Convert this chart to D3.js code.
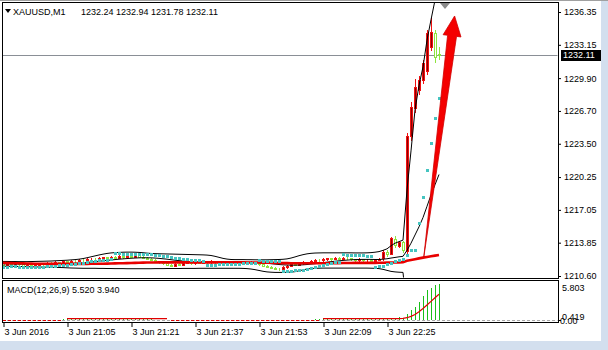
<!DOCTYPE html>
<html><head><meta charset="utf-8">
<script src="https://cdn.jsdelivr.net/npm/d3@7"></script>
<style>
html,body{margin:0;padding:0;background:#d3dfee;}
svg{display:block;}
text{font-family:"Liberation Sans",Arial,sans-serif;font-size:9px;fill:#000;}
</style></head><body>
<svg id="c" width="608" height="350"></svg>
<script>
// ---------- DATA ----------
const symbolLabel = "XAUUSD,M1";
const headerOHLC = ["1232.24","1232.94","1231.78","1232.11"];
const macdLabel = "MACD(12,26,9) 5.520 3.940";
const bidPrice = 1232.11;
const priceTicks = [1236.35,1233.15,1229.90,1226.70,1223.50,1220.25,1217.05,1213.85,1210.60];
const timeTickBars = [0,16,32,48,64,80,96];
const timeTickLabels = ["3 Jun 2016","3 Jun 21:05","3 Jun 21:21","3 Jun 21:37","3 Jun 21:53","3 Jun 22:09","3 Jun 22:25"];
const macdScaleLabels = [{v:5.803,t:"5.803"},{v:0.419,t:"0.419"},{v:0,t:"0.00"}];

const opens = [1211.85,1211.70,1211.80,1211.72,1211.85,1211.75,1211.62,1211.70,1211.60,1211.72,
1211.80,1211.74,1211.88,1211.80,1211.95,1211.90,1212.02,1211.96,1212.10,1212.05,
1212.20,1212.12,1212.25,1212.30,1212.22,1212.35,1212.42,1212.36,1212.48,1212.40,
1212.52,1212.45,1212.58,1212.50,1212.60,1212.48,1212.40,1212.30,1212.18,1212.05,
1211.95,1211.82,1211.70,1211.62,1211.80,1211.72,1211.88,1211.95,1211.85,1211.98,
1211.90,1212.02,1211.94,1212.05,1211.96,1211.88,1211.98,1211.90,1212.00,1211.92,
1212.02,1211.95,1211.88,1211.96,1211.85,1211.74,1211.62,1211.52,1211.42,1211.32,
1211.26,1211.48,1211.62,1211.75,1211.70,1211.85,1211.96,1211.90,1212.08,1212.18,
1212.12,1212.25,1212.32,1212.26,1212.38,1212.30,1212.40,1212.32,1212.22,1212.15,
1212.25,1212.12,1212.20,1212.08,1212.18,1212.35,1212.95,1212.75,1214.20,1213.55,
1213.90,1213.00,1224.30,1227.00,1228.70,1229.70,1230.60,1232.94,1234.30,1232.24];
const highs = [1211.90,1211.86,1211.85,1211.92,1211.90,1211.80,1211.76,1211.74,1211.78,1211.88,
1211.84,1211.95,1211.93,1212.02,1212.00,1212.10,1212.06,1212.16,1212.14,1212.28,
1212.24,1212.32,1212.38,1212.35,1212.42,1212.50,1212.46,1212.56,1212.52,1212.60,
1212.57,1212.68,1212.63,1212.70,1212.66,1212.54,1212.45,1212.36,1212.24,1212.10,
1212.00,1211.88,1211.76,1211.88,1211.85,1211.94,1212.02,1212.00,1212.05,1212.03,
1212.08,1212.07,1212.12,1212.10,1212.02,1212.04,1212.03,1212.06,1212.05,1212.09,
1212.07,1212.00,1212.02,1212.01,1211.90,1211.79,1211.68,1211.57,1211.47,1211.38,
1211.55,1211.68,1211.82,1211.80,1211.91,1212.03,1212.01,1212.14,1212.25,1212.22,
1212.32,1212.40,1212.37,1212.45,1212.43,1212.47,1212.45,1212.37,1212.28,1212.31,
1212.30,1212.26,1212.25,1212.24,1212.36,1213.10,1213.10,1214.40,1214.55,1214.05,
1214.00,1224.55,1227.60,1229.80,1230.10,1231.70,1234.55,1235.80,1234.60,1232.94];
const lows = [1211.64,1211.65,1211.66,1211.67,1211.70,1211.55,1211.57,1211.54,1211.55,1211.66,
1211.68,1211.69,1211.74,1211.75,1211.84,1211.85,1211.90,1211.91,1211.99,1212.00,
1212.06,1212.07,1212.20,1212.16,1212.17,1212.30,1212.30,1212.31,1212.34,1212.35,
1212.40,1212.40,1212.44,1212.45,1212.42,1212.33,1212.24,1212.12,1211.99,1211.88,
1211.76,1211.63,1211.55,1211.56,1211.66,1211.67,1211.82,1211.79,1211.80,1211.85,
1211.85,1211.89,1211.88,1211.91,1211.82,1211.83,1211.85,1211.85,1211.87,1211.87,
1211.90,1211.82,1211.83,1211.80,1211.68,1211.56,1211.46,1211.36,1211.26,1211.20,
1211.18,1211.42,1211.57,1211.64,1211.65,1211.80,1211.84,1211.85,1212.02,1212.06,
1212.07,1212.19,1212.20,1212.21,1212.24,1212.25,1212.27,1212.16,1212.09,1212.10,
1212.06,1212.07,1212.02,1212.03,1212.12,1212.20,1212.55,1212.70,1213.45,1213.45,
1212.95,1212.85,1223.90,1226.60,1228.40,1229.40,1230.30,1232.60,1231.50,1231.78];
const closes = [1211.70,1211.80,1211.72,1211.85,1211.75,1211.62,1211.70,1211.60,1211.72,1211.80,
1211.74,1211.88,1211.80,1211.95,1211.90,1212.02,1211.96,1212.10,1212.05,1212.20,
1212.12,1212.25,1212.30,1212.22,1212.35,1212.42,1212.36,1212.48,1212.40,1212.52,
1212.45,1212.58,1212.50,1212.60,1212.48,1212.40,1212.30,1212.18,1212.05,1211.95,
1211.82,1211.70,1211.62,1211.80,1211.72,1211.88,1211.95,1211.85,1211.98,1211.90,
1212.02,1211.94,1212.05,1211.96,1211.88,1211.98,1211.90,1212.00,1211.92,1212.02,
1211.95,1211.88,1211.96,1211.85,1211.74,1211.62,1211.52,1211.42,1211.32,1211.26,
1211.48,1211.62,1211.75,1211.70,1211.85,1211.96,1211.90,1212.08,1212.18,1212.12,
1212.25,1212.32,1212.26,1212.38,1212.30,1212.40,1212.32,1212.22,1212.15,1212.25,
1212.12,1212.20,1212.08,1212.18,1212.28,1212.90,1212.70,1214.30,1213.60,1213.90,
1213.10,1224.30,1227.10,1229.00,1229.70,1231.40,1234.30,1234.40,1231.96,1232.11];

const bbUpper = [1212.02,1212.02,1212.01,1212.01,1212.00,1212.00,1212.00,1212.01,1212.02,1212.03,
1212.04,1212.05,1212.06,1212.08,1212.10,1212.12,1212.14,1212.17,1212.20,1212.24,
1212.30,1212.38,1212.47,1212.56,1212.65,1212.73,1212.80,1212.85,1212.88,1212.90,
1212.92,1212.93,1212.93,1212.92,1212.90,1212.87,1212.83,1212.80,1212.78,1212.77,
1212.76,1212.75,1212.74,1212.73,1212.72,1212.71,1212.70,1212.69,1212.68,1212.67,
1212.66,1212.64,1212.60,1212.52,1212.42,1212.32,1212.25,1212.21,1212.20,1212.20,
1212.20,1212.19,1212.19,1212.18,1212.18,1212.18,1212.18,1212.19,1212.20,1212.21,
1212.23,1212.27,1212.35,1212.46,1212.58,1212.68,1212.76,1212.81,1212.84,1212.85,
1212.86,1212.86,1212.86,1212.86,1212.86,1212.86,1212.86,1212.86,1212.85,1212.85,
1212.85,1212.86,1212.88,1212.92,1212.98,1213.10,1213.25,1213.55,1213.80,1213.95,
1214.10,1219.00,1222.80,1226.80,1229.20,1231.00,1233.60,1235.60,1237.50,1239.00];
const bbMiddle = [1211.79,1211.79,1211.78,1211.78,1211.77,1211.76,1211.76,1211.76,1211.76,1211.76,
1211.76,1211.76,1211.76,1211.77,1211.78,1211.79,1211.80,1211.82,1211.84,1211.86,
1211.89,1211.92,1211.96,1212.00,1212.04,1212.08,1212.12,1212.16,1212.20,1212.24,
1212.27,1212.30,1212.33,1212.35,1212.37,1212.38,1212.38,1212.37,1212.35,1212.32,
1212.28,1212.24,1212.19,1212.14,1212.10,1212.06,1212.02,1211.99,1211.97,1211.95,
1211.94,1211.93,1211.93,1211.93,1211.94,1211.94,1211.95,1211.95,1211.95,1211.95,
1211.95,1211.94,1211.93,1211.92,1211.90,1211.87,1211.84,1211.80,1211.76,1211.72,
1211.69,1211.67,1211.66,1211.66,1211.67,1211.69,1211.72,1211.76,1211.80,1211.85,
1211.90,1211.95,1212.00,1212.04,1212.08,1212.12,1212.15,1212.18,1212.20,1212.21,
1212.22,1212.22,1212.22,1212.21,1212.21,1212.24,1212.28,1212.35,1212.41,1212.47,
1212.52,1213.10,1213.80,1214.60,1215.40,1216.30,1217.40,1218.50,1219.50,1220.50];
const bbLower = [1211.55,1211.55,1211.54,1211.54,1211.53,1211.52,1211.51,1211.50,1211.49,1211.48,
1211.47,1211.46,1211.45,1211.44,1211.43,1211.42,1211.40,1211.38,1211.37,1211.36,
1211.35,1211.35,1211.35,1211.35,1211.34,1211.34,1211.33,1211.33,1211.32,1211.32,
1211.32,1211.31,1211.31,1211.31,1211.31,1211.31,1211.31,1211.31,1211.32,1211.32,
1211.32,1211.33,1211.33,1211.33,1211.33,1211.34,1211.34,1211.34,1211.34,1211.35,
1211.35,1211.35,1211.35,1211.35,1211.35,1211.35,1211.35,1211.35,1211.35,1211.35,
1211.34,1211.32,1211.28,1211.22,1211.14,1211.06,1211.00,1210.97,1210.95,1210.95,
1210.95,1210.96,1210.98,1211.02,1211.10,1211.20,1211.28,1211.33,1211.35,1211.36,
1211.37,1211.37,1211.37,1211.37,1211.37,1211.37,1211.37,1211.37,1211.37,1211.37,
1211.37,1211.37,1211.36,1211.35,1211.32,1211.25,1211.15,1211.05,1211.00,1210.97,
1210.95,1207.20,1203.60,1200.40,1198.40,1196.60,1195.20,1194.40,1194.00,1193.70];
const maRed = [1211.88,1211.87,1211.86,1211.85,1211.84,1211.83,1211.82,1211.81,1211.80,1211.79,
1211.79,1211.78,1211.78,1211.78,1211.78,1211.78,1211.78,1211.78,1211.78,1211.78,
1211.78,1211.78,1211.79,1211.79,1211.80,1211.80,1211.81,1211.82,1211.83,1211.84,
1211.85,1211.86,1211.87,1211.88,1211.89,1211.90,1211.91,1211.92,1211.92,1211.93,
1211.93,1211.93,1211.93,1211.93,1211.93,1211.93,1211.93,1211.93,1211.93,1211.93,
1211.93,1211.93,1211.93,1211.93,1211.93,1211.93,1211.93,1211.93,1211.93,1211.93,
1211.93,1211.92,1211.92,1211.91,1211.91,1211.90,1211.90,1211.89,1211.88,1211.87,
1211.86,1211.86,1211.85,1211.85,1211.85,1211.85,1211.85,1211.85,1211.85,1211.85,
1211.85,1211.85,1211.86,1211.86,1211.86,1211.87,1211.87,1211.87,1211.88,1211.88,
1211.88,1211.88,1211.88,1211.88,1211.89,1211.89,1211.90,1211.91,1211.92,1211.93,
1211.95,1212.08,1212.16,1212.24,1212.32,1212.39,1212.46,1212.53,1212.59,1212.65];
const sar = [1211.52,1211.52,1211.53,1211.53,1211.50,1211.48,1211.47,1211.46,1211.46,1211.47,
1211.50,1211.54,1211.57,1211.60,1211.63,1211.66,1211.70,1211.74,1211.79,1211.84,
1211.90,1211.96,1212.02,1212.08,1212.12,1212.16,1212.20,1212.24,1212.80,1212.80,
1212.79,1212.78,1212.78,1212.77,1212.76,1212.75,1212.72,1212.70,1212.66,1212.62,
1212.57,1212.52,1212.46,1212.40,1212.33,1212.27,1212.22,1212.18,1212.14,1212.12,
1212.10,1211.70,1211.71,1211.72,1211.73,1211.74,1211.75,1211.76,1211.78,1211.80,
1211.82,1211.84,1211.82,1211.84,1212.12,1212.11,1212.10,1212.09,1212.08,1212.07,
1211.12,1211.12,1211.13,1211.14,1211.16,1211.20,1211.28,1211.40,1211.50,1211.60,
1211.70,1211.78,1211.85,1211.92,1211.98,1212.70,1212.68,1212.66,1212.64,1212.62,
1212.60,1212.58,1212.56,1211.50,1211.55,1211.57,1211.77,1211.87,1212.06,1212.16,
1212.26,1212.65,1213.13,1213.13,1215.77,1218.30,1220.94,1223.57,1226.01,1227.96];
const macdMain = [0.02,0.03,0.02,0.03,0.02,0.01,0.02,0.01,0.02,0.03,
0.03,0.05,0.05,0.07,0.07,0.09,0.09,0.11,0.11,0.13,
0.13,0.15,0.17,0.16,0.18,0.20,0.19,0.21,0.20,0.22,
0.21,0.23,0.22,0.23,0.21,0.18,0.14,0.10,0.05,0.01,
0,0,0,0,0,0,0,0,0,0,
0,0,0,0,0,0,0,0,0,0,
0,0,0,0,0,0,0,0,0,0,
0,0,0,0,0,0.01,0.03,0.06,0.09,0.10,
0.13,0.15,0.15,0.17,0.16,0.17,0.16,0.14,0.12,0.12,
0.10,0.10,0.08,0.08,0.09,0.16,0.18,0.33,0.38,0.42,
0.38,0.90,1.50,2.00,2.80,3.60,4.60,4.95,5.30,5.52];
const macdSignal = [0,0,0,0,0,0,0,0,0,0,
0,0,0,0,0,0,0.2,0.2,0.2,0.2,
0.2,0.2,0.2,0.2,0.2,0.2,0.2,0.2,0.2,0.2,
0.2,0.2,0.2,0.2,0.2,0.2,0.2,0.2,0.2,0.2,
0.2,0.2,0,0,0,0,0,0,0,0,
0,0,0,0,0,0,0,0,0,0,
0,0,0,0,0,0,0,0,0,0,
0,0,0,0,0,0,0,0,0,0,
0.2,0.2,0.2,0.2,0.2,0.2,0.2,0.2,0.2,0.2,
0.2,0.2,0.2,0.2,0.2,0.2,0.2,0.2,0.2,0.2,
0.25,0.35,0.55,0.85,1.25,1.75,2.30,2.85,3.40,3.94];
// arrow annotation in data space (bar index, price)
const arrowTail = {bar:105.2, price:1212.45};
const arrowTip = {bar:112.9, price:1235.96};
const shiftMarkerBar = 110.5;

// ---------- CHART ----------
const svg = d3.select("#c");
const n = closes.length;
svg.append("rect").attr("width",608).attr("height",350).attr("fill","#d3dfee");
svg.append("rect").attr("x",0).attr("y",0).attr("width",601).attr("height",341).attr("fill","#fff");
svg.append("line").attr("x1",0).attr("x2",608).attr("y1",0.5).attr("y2",0.5).attr("stroke","#a0a0a0");

const x = d3.scaleLinear().domain([0,109]).range([3,439]);
const y = d3.scaleLinear().domain([1210.60,1236.35]).range([276,12]);
const ym = d3.scaleLinear().domain([0,5.803]).range([320,282]);

const defs = svg.append("defs");
defs.append("clipPath").attr("id","clipMain").append("rect").attr("x",2.5).attr("y",3).attr("width",555).attr("height",274.5);
defs.append("clipPath").attr("id","clipMacd").append("rect").attr("x",2.5).attr("y",281).attr("width",555).attr("height",41.5);

const main = svg.append("g").attr("clip-path","url(#clipMain)");

// bid line
main.append("line").attr("x1",2).attr("x2",558)
  .attr("y1",Math.round(y(bidPrice))+0.5).attr("y2",Math.round(y(bidPrice))+0.5)
  .attr("stroke","#8a8f96");

// candles
const cg = main.append("g").attr("shape-rendering","crispEdges");
d3.range(n).forEach(i=>{
  const xi = Math.round(x(i));
  const up = closes[i] >= opens[i];
  const col = up ? "#f01010" : "#8ee53f";
  cg.append("line").attr("x1",xi+0.5).attr("x2",xi+0.5)
    .attr("y1",Math.round(y(highs[i]))).attr("y2",Math.round(y(lows[i]))+1)
    .attr("stroke",col);
  const t = Math.round(y(Math.max(opens[i],closes[i])));
  const b = Math.round(y(Math.min(opens[i],closes[i])));
  cg.append("rect").attr("x",xi-0.5).attr("y",t+0.5)
    .attr("width",2).attr("height",Math.max(b-t,0))
    .attr("fill", up ? "#8b0000" : "#ffffff").attr("stroke",col);
});

// bollinger bands
const line = d3.line().x((d,i)=>x(i)).y(d=>y(d));
[bbUpper,bbMiddle,bbLower].forEach(arr=>{
  main.append("path").attr("d",line(arr)).attr("fill","none").attr("stroke","#000").attr("stroke-width",1);
});
// red MA
main.append("path").attr("d",line(maRed)).attr("fill","none").attr("stroke","#e80000").attr("stroke-width",2.6);
// parabolic SAR
main.append("g").selectAll("rect").data(sar).join("rect")
  .attr("x",(d,i)=>Math.round(x(i))-1).attr("y",d=>Math.round(y(d))-1)
  .attr("width",3).attr("height",3).attr("fill","#45c4c0").attr("shape-rendering","crispEdges");

// arrow
(function(){
  const tx=x(arrowTail.bar), ty=y(arrowTail.price), px=x(arrowTip.bar), py=y(arrowTip.price);
  const dx=px-tx, dy=py-ty, L=Math.hypot(dx,dy), ux=dx/L, uy=dy/L, nx=-uy, ny=ux;
  const hl=20, hw=9, sw=4.5;
  const bx=px-ux*hl, by=py-uy*hl;
  const pts=[[tx,ty],[bx+nx*sw,by+ny*sw],[bx+nx*hw,by+ny*hw],[px,py],[bx-nx*hw,by-ny*hw],[bx-nx*sw,by-ny*sw]];
  main.append("polygon").attr("points",pts.map(p=>p.join(",")).join(" ")).attr("fill","#f40000").attr("stroke","#d00000").attr("stroke-width",0.8);
})();

// shift marker
(function(){
  const cx = x(shiftMarkerBar);
  svg.append("polygon").attr("points",`${cx-5},3 ${cx+5},3 ${cx},9`).attr("fill","#8a8a8a");
})();

// main frame
svg.append("rect").attr("x",2.5).attr("y",2.5).attr("width",555.5).attr("height",275.5)
  .attr("fill","none").attr("stroke","#000").attr("shape-rendering","crispEdges");

// price axis
const ax = svg.append("g").attr("transform","translate(558,0)")
  .call(d3.axisRight(y).tickValues(priceTicks).tickSize(3).tickPadding(3).tickFormat(d3.format(".2f")));
ax.select(".domain").remove();
ax.selectAll("text").attr("font-size",9).attr("font-family","Liberation Sans, Arial, sans-serif");

// bid price label
(function(){
  const by = Math.round(y(bidPrice));
  svg.append("rect").attr("x",561).attr("y",by-5).attr("width",40).attr("height",11).attr("fill","#000");
  svg.append("text").attr("x",563).attr("y",by).attr("dy","0.35em").style("fill","#fff").text(bidPrice.toFixed(2));
})();

// header texts
svg.append("polygon").attr("points","5,9 11,9 8,13").attr("fill","#000");
svg.append("text").attr("x",13).attr("y",12).attr("dy","0.35em").text(symbolLabel);
svg.append("text").attr("x",81).attr("y",12).attr("dy","0.35em").text(headerOHLC.join(" "));

// ---------- MACD ----------
const mg = svg.append("g").attr("clip-path","url(#clipMacd)");
mg.append("line").attr("x1",2).attr("x2",558).attr("y1",ym(0)+0.5).attr("y2",ym(0)+0.5)
  .attr("stroke","#a8a8a8").attr("stroke-dasharray","3,2");
mg.append("g").selectAll("rect").data(macdMain).join("rect")
  .attr("x",(d,i)=>Math.round(x(i))).attr("width",1)
  .attr("y",d=>Math.round(ym(d))).attr("height",d=>Math.max(0,Math.round(ym(0))-Math.round(ym(d))))
  .attr("fill","#19c019").attr("shape-rendering","crispEdges");
const sline = d3.line().x((d,i)=>x(i)).y(d=>ym(d)+0.5);
mg.append("path").attr("d",sline.defined(d=>d<0.1)(macdSignal)).attr("fill","none")
  .attr("stroke","#e00000").attr("stroke-dasharray","3,2");
mg.append("path").attr("d",d3.line().x((d,i)=>x(i)).y(d=>ym(d)).defined(d=>d>=0.1)(macdSignal)).attr("fill","none")
  .attr("stroke","#e00000").attr("stroke-width",1.2);
svg.append("rect").attr("x",2.5).attr("y",280.5).attr("width",555.5).attr("height",42)
  .attr("fill","none").attr("stroke","#000").attr("shape-rendering","crispEdges");
svg.append("text").attr("x",7).attr("y",290).attr("dy","0.35em").text(macdLabel);
// macd scale labels
svg.append("text").attr("x",560).attr("y",ym(0)+0.5).attr("dy","0.35em").text(macdScaleLabels[2].t);
svg.append("text").attr("x",562).attr("y",ym(macdScaleLabels[1].v)-0.5).attr("dy","0.35em").text(macdScaleLabels[1].t);
svg.append("text").attr("x",562).attr("y",ym(macdScaleLabels[0].v)+6).attr("dy","0.35em").text(macdScaleLabels[0].t);
svg.append("line").attr("x1",558).attr("x2",561).attr("y1",ym(0)+0.5).attr("y2",ym(0)+0.5).attr("stroke","#000");

// time axis
const tx = svg.append("g").attr("transform","translate(0,323)")
  .call(d3.axisBottom(x).tickValues(timeTickBars).tickSize(4).tickFormat((d,i)=>timeTickLabels[i]));
tx.select(".domain").remove();
tx.selectAll(".tick line").attr("transform","translate(0.5,0)");
tx.selectAll("text").attr("text-anchor","start").attr("x",1).attr("y",6)
  .attr("font-size",9).attr("font-family","Liberation Sans, Arial, sans-serif");
</script>
</body></html>
